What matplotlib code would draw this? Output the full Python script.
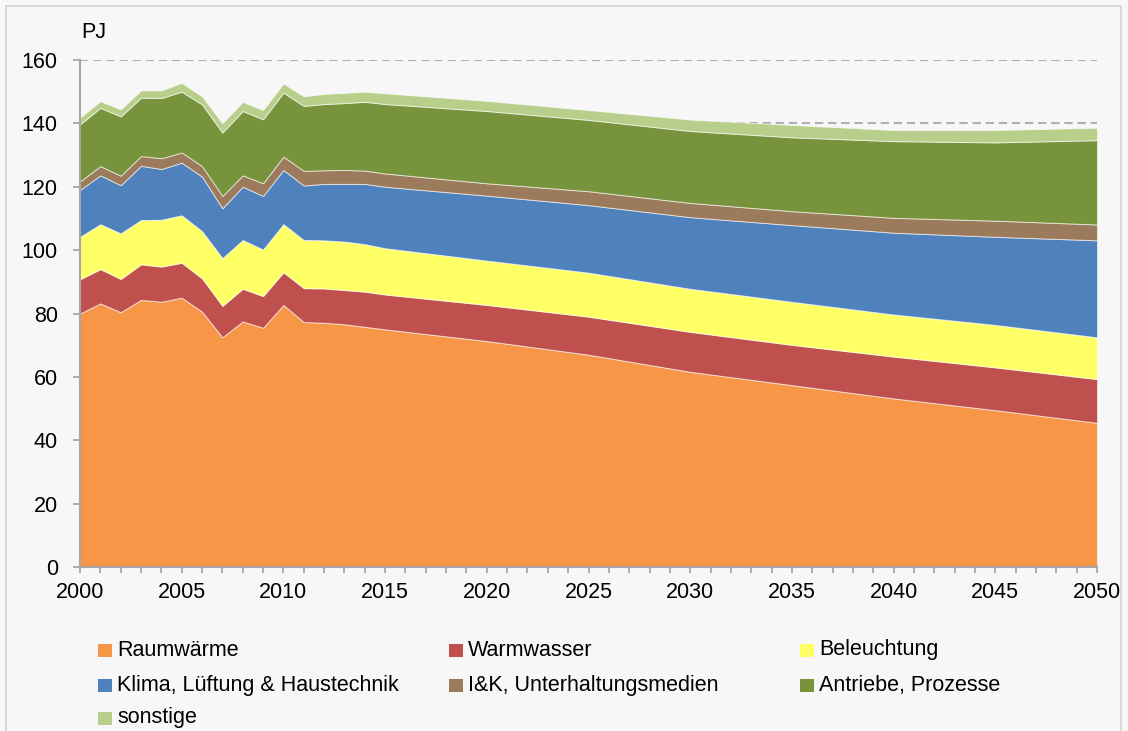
import matplotlib
matplotlib.use("Agg")
import matplotlib.pyplot as plt
from matplotlib.patches import Rectangle

plt.rcParams['font.family'] = ['Liberation Sans', 'DejaVu Sans']

years = [2000, 2001, 2002, 2003, 2004, 2005, 2006, 2007, 2008, 2009, 2010,
         2011, 2012, 2013, 2014, 2015, 2020, 2025, 2030, 2035, 2040, 2045, 2050]

raumwaerme = [80.0, 83.2, 80.4, 84.3, 83.7, 85.0, 80.6, 72.5, 77.5, 75.5, 82.7,
              77.3, 77.1, 76.6, 75.8, 75.0, 71.3, 67.0, 61.6, 57.4, 53.2, 49.5, 45.5]
warmwasser = [10.8, 10.8, 10.5, 11.2, 11.1, 11.0, 10.5, 9.9, 10.3, 10.0, 10.3,
              10.7, 10.8, 10.8, 11.1, 11.0, 11.4, 12.0, 12.6, 12.7, 13.2, 13.5, 13.8]
beleuchtung = [13.4, 14.2, 14.4, 14.0, 14.8, 15.0, 14.9, 15.1, 15.4, 14.7, 15.2,
               15.2, 15.2, 15.3, 15.0, 14.6, 14.0, 13.9, 13.6, 13.6, 13.3, 13.4, 13.2]
klima = [14.8, 15.4, 15.2, 17.1, 16.0, 16.6, 17.2, 15.7, 16.8, 16.9, 17.1,
         17.2, 17.8, 18.2, 19.0, 19.4, 20.5, 21.3, 22.6, 24.2, 25.8, 27.8, 30.6]
iuk = [2.7, 2.9, 3.0, 3.1, 3.4, 3.2, 3.3, 3.9, 3.6, 4.0, 4.2,
       4.6, 4.3, 4.4, 4.2, 4.2, 3.9, 4.4, 4.5, 4.4, 4.7, 5.1, 5.0]
antriebe = [18.0, 18.4, 18.7, 18.4, 19.0, 19.2, 19.5, 20.0, 20.3, 20.2, 20.2,
            20.5, 20.9, 21.1, 21.7, 21.9, 22.8, 22.5, 22.7, 23.3, 24.2, 24.7, 26.6]
sonstige = [2.1, 2.1, 2.2, 2.3, 2.4, 2.8, 2.5, 2.9, 2.9, 2.9, 2.9,
            3.0, 3.2, 3.2, 3.2, 3.4, 3.2, 3.1, 3.6, 3.9, 3.5, 3.9, 3.9]

labels = ["Raumwärme", "Warmwasser", "Beleuchtung",
          "Klima, Lüftung & Haustechnik", "I&K, Unterhaltungsmedien",
          "Antriebe, Prozesse", "sonstige"]
colors = ["#F79646", "#C0504D", "#FFFF66", "#4F81BD", "#9C7B5D", "#77933C", "#B8CF8C"]
series = [raumwaerme, warmwasser, beleuchtung, klima, iuk, antriebe, sonstige]

y_ticks = [0, 20, 40, 60, 80, 100, 120, 140, 160]
x_ticks = [2000, 2005, 2010, 2015, 2020, 2025, 2030, 2035, 2040, 2045, 2050]

W, H = 1128, 731
bg = "#F7F7F7"
fs = 15.5
fig = plt.figure(figsize=(W / 100, H / 100), dpi=100, facecolor=bg)

# outer frame of the chart area
fig.patches.append(Rectangle((6 / W, -0.01), (1121 - 6) / W, 1 - 6 / H + 0.01,
                             transform=fig.transFigure, facecolor=bg,
                             edgecolor="#D4D4D4", linewidth=1.2, zorder=-5))

ax = fig.add_axes([80 / W, 1 - 567 / H, (1097 - 80) / W, (567 - 60) / H])
ax.set_facecolor(bg)
ax.patch.set_alpha(0)

polys = ax.stackplot(years, *series, colors=colors, labels=labels,
                     edgecolor=(1, 1, 1, 0.6), linewidth=0.7, zorder=2)

ax.set_xlim(2000, 2050)
ax.set_ylim(0, 160)
ax.set_yticks(y_ticks)
ax.set_xticks(x_ticks)
ax.set_xticks(list(range(2000, 2051)), minor=True)
ax.yaxis.grid(True, linestyle=(0, (4, 2.3)), color="#B0B0B0", linewidth=1.5, zorder=0)
ax.set_axisbelow(True)

for side in ("top", "right"):
    ax.spines[side].set_visible(False)
for side in ("left", "bottom"):
    ax.spines[side].set_color("#A6A6A6")
    ax.spines[side].set_linewidth(1.5)
    ax.spines[side].set_zorder(3)

ax.tick_params(axis="y", which="major", length=5, width=1.3, color="#A6A6A6",
               pad=11, labelsize=fs, labelcolor="#000000")
ax.tick_params(axis="x", which="both", length=4.5, width=1.3, color="#A6A6A6",
               direction="out")
ax.tick_params(axis="x", which="major", pad=6, labelsize=fs, labelcolor="#000000")

fig.text(81 / W, 1 - 32 / H, "PJ", fontsize=fs, ha="left", va="center")

# legend laid out in three columns, filled row by row
col_x = [98, 449, 800]
row_y = [650, 685, 718]
for i, (lab, col) in enumerate(zip(labels, colors)):
    r, c = divmod(i, 3)
    x0, yc = col_x[c], row_y[r]
    fig.patches.append(Rectangle((x0 / W, 1 - (yc + 7) / H), 14 / W, 13 / H,
                                 transform=fig.transFigure, facecolor=col,
                                 edgecolor="none", zorder=3))
    fig.text((x0 + 19) / W, 1 - yc / H, lab, fontsize=fs, ha="left", va="center")

fig.savefig("out.png", dpi=100, facecolor=bg)
